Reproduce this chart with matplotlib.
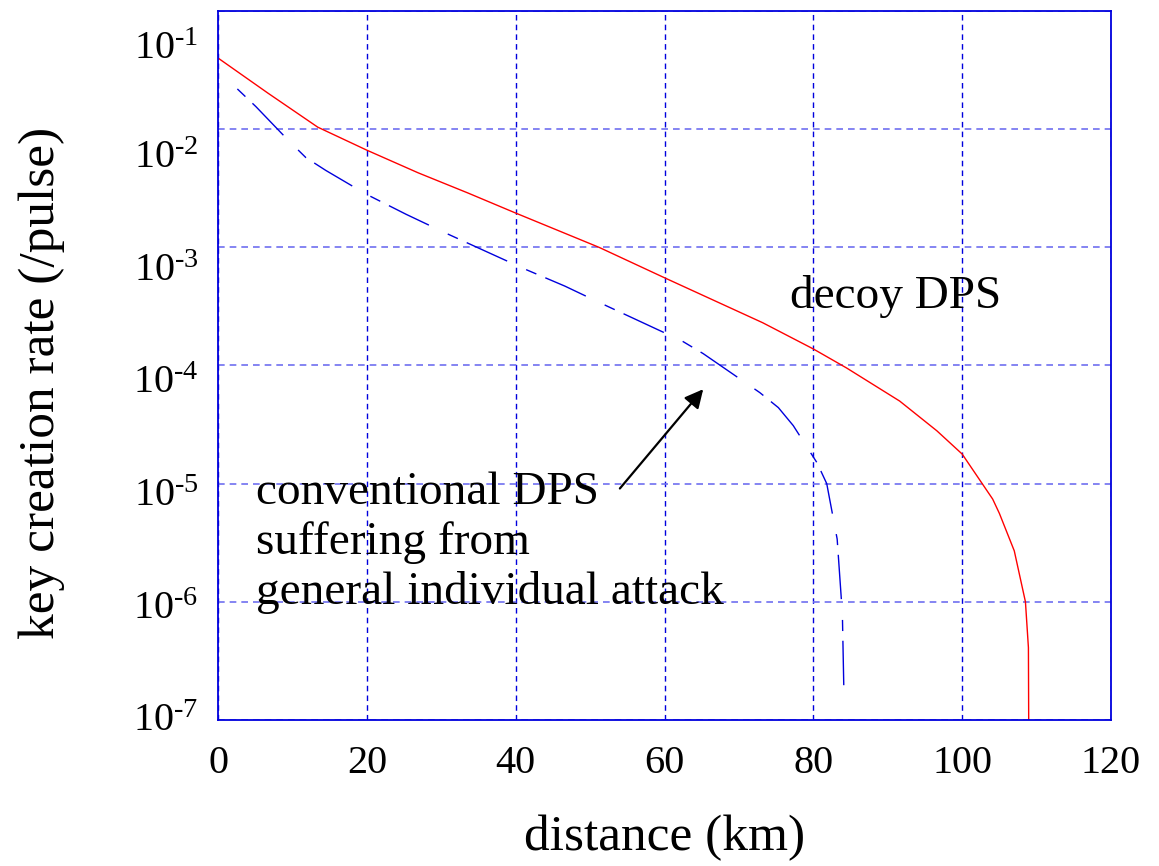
import numpy as np
import matplotlib
matplotlib.use('Agg')
import matplotlib.pyplot as plt
from matplotlib.transforms import ScaledTranslation

plt.rcParams['font.family'] = ['Liberation Serif', 'DejaVu Serif']
plt.rcParams['mathtext.fontset'] = 'custom'
plt.rcParams['mathtext.rm'] = 'Liberation Serif'
plt.rcParams['mathtext.it'] = 'Liberation Serif:italic'

# decoy DPS (red)
decoy_km = [0, 6.7, 13.4, 20, 26.9, 33.6, 40, 51.2, 59.8, 73.2, 80, 84.5,
            91.6, 96.6, 100, 104.1, 105, 107, 108.5, 108.9, 109.0]
decoy_rate = [4.0e-2, 2.02e-2, 1.04e-2, 6.64e-3, 4.27e-3, 2.88e-3, 1.95e-3,
              1.0e-3, 5.6e-4, 2.3e-4, 1.38e-4, 9.5e-5, 5.0e-5, 2.8e-5,
              1.78e-5, 7.4e-6, 5.6e-6, 2.7e-6, 1.0e-6, 4.1e-7, 1.0e-8]

# conventional DPS (blue, dashed)
conv_km = [2.6, 5.1, 9.4, 11.8, 14.5, 19.9, 25.3, 30.6, 35.9, 41.1, 46.6,
           51.3, 62.3, 65.2, 72.8, 75.3, 77.3, 80.5, 81.8, 83.2, 83.9, 84.1]
conv_rate = [2.19e-2, 1.55e-2, 8.1e-3, 5.75e-3, 4.47e-3, 2.82e-3, 1.9e-3,
             1.32e-3, 9.3e-4, 6.6e-4, 4.7e-4, 3.4e-4, 1.62e-4, 1.26e-4,
             5.9e-5, 4.4e-5, 3.1e-5, 1.5e-5, 1.0e-5, 3.4e-6, 7.9e-7, 1.8e-7]

xticks = [0, 20, 40, 60, 80, 100, 120]
yticks = [1e-1, 1e-2, 1e-3, 1e-4, 1e-5, 1e-6, 1e-7]
ytick_labels = [r'$10^{\text{-%d}}$' % k for k in range(1, 8)]
ytick_shift_px = [34, 25, 20, 14, 8, 3, -3]

fig = plt.figure(figsize=(11.59, 8.66), dpi=100)
ax = fig.add_axes([0.1881, 0.1686, 0.9586 - 0.1881, 0.9873 - 0.1686])

ax.plot(decoy_km, decoy_rate, color='#ff0000', lw=1.0)
ax.plot(conv_km, conv_rate, color='#0000dd', lw=1.0,
        linestyle=(0, (8, 7, 32, 15)))

ax.set_yscale('log')
ax.set_xlim(0, 120)
ax.set_ylim(1e-7, 1e-1)
ax.set_xticks(xticks)
ax.set_yticks(yticks)
ax.set_yticklabels(ytick_labels)
ax.minorticks_off()
ax.tick_params(length=0, labelsize=29)
ax.tick_params(axis='x', pad=18)
ax.tick_params(axis='y', pad=14)
for lab, dy in zip(ax.get_yticklabels(), ytick_shift_px):
    lab.set_transform(lab.get_transform() + ScaledTranslation(0, -dy / 100., fig.dpi_scale_trans))

ax.xaxis.grid(True, color='#0000dd', linestyle=(0, (4, 3)), lw=1.0)
ax.yaxis.grid(True, color='#6f6ff0', linestyle=(0, (4, 3)), lw=1.2)
for s in ax.spines.values():
    s.set_color('#0000dd')
    s.set_linewidth(1.3)

ax.set_xlabel('distance (km)', fontsize=37)
ax.set_ylabel('key creation rate (/pulse)', fontsize=37)
ax.xaxis.set_label_coords(0.5, -0.166)
ax.xaxis.label.set_va('center')
ax.yaxis.set_label_coords(-0.197, 0.475)
ax.yaxis.label.set_va('center')

ax.text(76.9, 3.04e-4, 'decoy DPS', fontsize=34, va='baseline', ha='left')
ax.text(5.1, 9.6e-7, 'conventional DPS\nsuffering from\ngeneral individual attack',
        fontsize=34, va='baseline', ha='left', linespacing=1.22)
ax.annotate('', xy=(65.2, 6.3e-5), xytext=(54.0, 9.1e-6),
            arrowprops=dict(arrowstyle='-|>', color='black', lw=1.6,
                            mutation_scale=28, shrinkA=0, shrinkB=0))

fig.savefig('out.png', dpi=100)
